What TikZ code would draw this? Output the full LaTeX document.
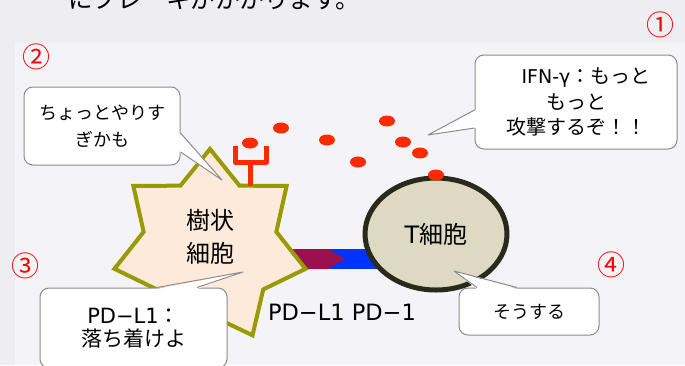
\documentclass[tikz,border=0pt]{standalone}
\usepackage{fontspec}
\setmainfont{Noto Sans CJK JP}
\newfontfamily\latinfont{DejaVu Sans}
\usetikzlibrary{shapes.geometric}
\definecolor{pagebg}{HTML}{EEEDF2}
\definecolor{panelbg}{HTML}{F4F3F8}
\definecolor{dcfill}{HTML}{FDEADA}
\definecolor{dcline}{HTML}{999900}
\definecolor{tcfill}{HTML}{DDD9C3}
\definecolor{tcline}{HTML}{2A2A1C}
\definecolor{ifnred}{HTML}{FF2A00}
\definecolor{pdlone}{HTML}{99124F}
\definecolor{pdone}{HTML}{0033FF}
\definecolor{bubbleline}{HTML}{8C8C8C}
\begin{document}
\begin{tikzpicture}[x=1pt,y=-1pt,
  bubble/.style={draw=bubbleline,line width=1pt,fill=white,rounded corners=9pt,inner sep=0pt,align=center},
  tail/.style={draw=bubbleline,line width=1pt,line join=round},
  ifng/.style={ellipse,fill=ifnred,minimum width=16pt,minimum height=11pt,inner sep=0pt},
  numlabel/.style={text=red,font=\fontsize{28}{28}\selectfont,inner sep=0pt}]
  \useasboundingbox (0,0) rectangle (685,365);
  \clip (0,0) rectangle (685,365);
  \fill[pagebg] (0,0) rectangle (685,365);
  \fill[panelbg] (15,43) rectangle (685,365);
  \node[anchor=base west,font=\fontsize{24.5}{24.5}\selectfont,inner sep=0pt] (lead) at (68,8) {にブレーキがかかります。};

  % PD-L1 / PD-1 binding
  \fill[pdone] (328,249) rectangle (385,269);
  \fill[pdlone] (285,249) -- (328,249) -- (345,259) -- (328,269) -- (285,269) -- cycle;

  % cells
  \node[star,star points=7,star point ratio=1.44,minimum size=196pt,inner sep=0pt,
        draw=dcline,line width=4pt,fill=dcfill] (dc) at (210,247) {};
  \node[align=center,font=\fontsize{24}{33}\selectfont] (dctext) at ([yshift=10pt]dc.center) {樹状\\細胞};
  \node[ellipse,minimum width=142pt,minimum height=112pt,draw=tcline,line width=5pt,fill=tcfill,
        font=\fontsize{24}{24}\selectfont] (tc) at (436,234) {{\latinfont T}細胞};

  % receptor and IFN-gamma
  \draw[ifnred,line width=5pt,line join=round] (235,146) -- (235,162) -- (266,162) -- (266,146)
    (250,162) -- (250,186);
  \node[ifng] (rdot) at (250,143) {};
  \foreach \x/\y [count=\i] in {281/128,327/140,358/162,387/121,403/142,420/153,436/175}
    \node[ifng] (g\i) at (\x,\y) {};

  % speech bubbles
  \coordinate (t1) at (222,180);
  \coordinate (t2) at (428,135);
  \coordinate (t3) at (243,272);
  \coordinate (t4) at (454,271);
  \node[bubble,minimum width=156pt,minimum height=78pt,font=\fontsize{18}{27}\selectfont] (b1) at (102,126) {ちょっとやりす\\ぎかも};
  \node[bubble,minimum width=202pt,minimum height=94pt,font=\fontsize{20}{25.5}\selectfont] (b2) at (576,102) {　{\latinfont\fontsize{19}{25.5}\selectfont IFN-γ}：もっと\\もっと\\攻撃するぞ！！};
  \node[bubble,minimum width=187pt,minimum height=80pt,font=\fontsize{21}{23}\selectfont] (b3) at (133.5,328) {{\latinfont PD−L1}：\\落ち着けよ};
  \node[bubble,minimum width=140pt,minimum height=47pt,font=\fontsize{18}{22}\selectfont] (b4) at (529,311.5) {そうする};

  \fill[white] ([xshift=-1.5pt,yshift=-7pt]b1.east) -- (t1) -- ([xshift=-1.5pt,yshift=-26pt]b1.east) -- cycle;
  \draw[tail] ([yshift=-7pt]b1.east) -- (t1) -- ([yshift=-26pt]b1.east);
  \fill[white] ([xshift=1.5pt,yshift=-8pt]b2.west) -- (t2) -- ([xshift=1.5pt,yshift=-26pt]b2.west) -- cycle;
  \draw[tail] ([yshift=-8pt]b2.west) -- (t2) -- ([yshift=-26pt]b2.west);
  \fill[white] ([xshift=23.5pt,yshift=-1.5pt]b3.north) -- (t3) -- ([xshift=63.5pt,yshift=-1.5pt]b3.north) -- cycle;
  \draw[tail] ([xshift=23.5pt]b3.north) -- (t3) -- ([xshift=63.5pt]b3.north);
  \fill[white] ([xshift=-52pt,yshift=-1.5pt]b4.north) -- (t4) -- ([xshift=-12pt,yshift=-1.5pt]b4.north) -- cycle;
  \draw[tail] ([xshift=-52pt]b4.north) -- (t4) -- ([xshift=-12pt]b4.north);

  \node[font=\latinfont\fontsize{22.5}{22.5}\selectfont] (pdlab) at (342,312) {PD−L1 PD−1};

  % step numbers
  \node[numlabel] (n1) at (660,25) {①};
  \node[numlabel] (n2) at (37,57) {②};
  \node[numlabel] (n3) at (26,266) {③};
  \node[numlabel] (n4) at (611,265) {④};
\end{tikzpicture}
\end{document}
